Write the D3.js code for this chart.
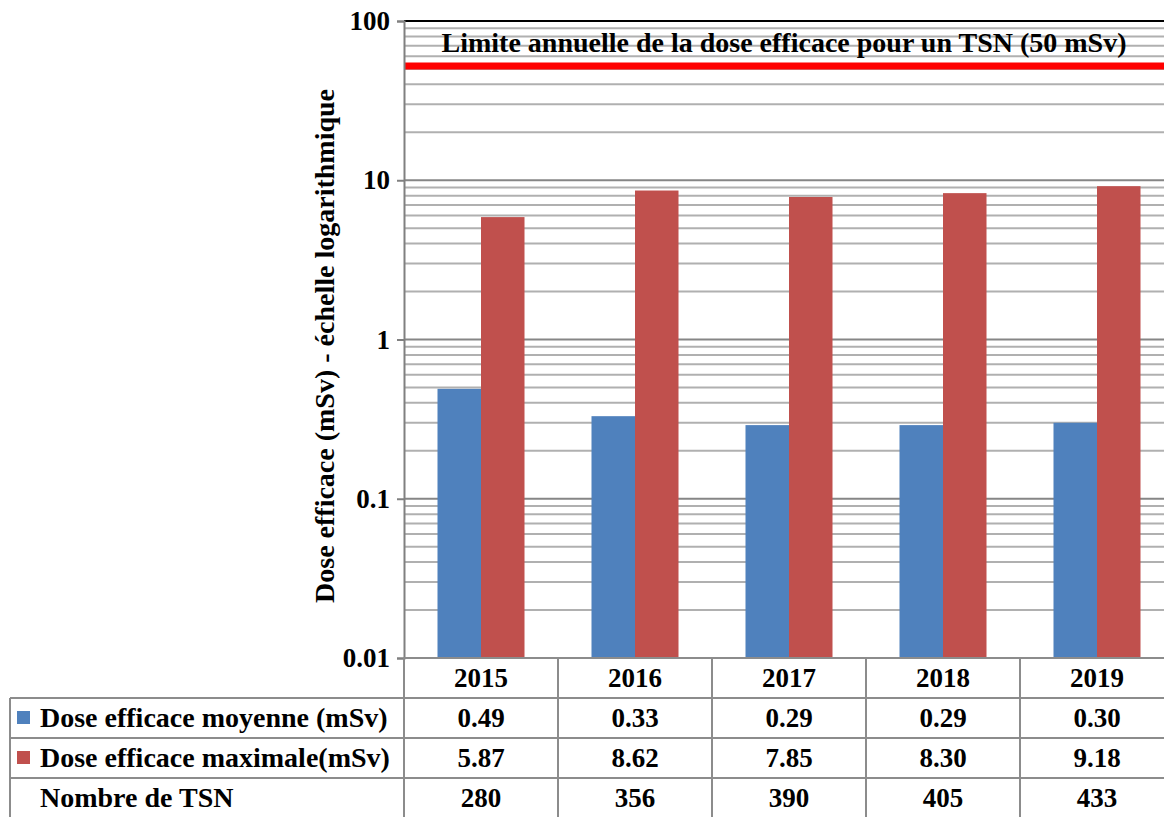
<!DOCTYPE html>
<html>
<head>
<meta charset="utf-8">
<script src="https://cdn.jsdelivr.net/npm/d3@7"></script>
<style>
	body { margin: 0; background: #fff; }
	svg text { font-family: "Liberation Serif", "Times New Roman", serif; font-weight: bold; fill: #000; }
</style>
</head>
<body>
<div id="chart"></div>
<script>
var years = ['2015', '2016', '2017', '2018', '2019'];
var doseMoyenne = [0.49, 0.33, 0.29, 0.29, 0.30];
var doseMaximale = [5.87, 8.62, 7.85, 8.30, 9.18];
var nombreTSN = [280, 356, 390, 405, 433];
var seriesNames = ['Dose efficace moyenne (mSv)', 'Dose efficace maximale(mSv)'];
var tickValues = [0.01, 0.1, 1, 10, 100];
var tickLabels = ['0.01', '0.1', '1', '10', '100'];
var limitValue = 50;
var limitLabel = 'Limite annuelle de la dose efficace pour un TSN (50 mSv)';
var yLabel = 'Dose efficace (mSv) - échelle logarithmique';

var colors = ['#4f81bd', '#c0504d'];

var width = 1164,
	height = 817,
	plotLeft = 404,
	plotRight = 1174,
	plotTop = 21,
	plotBottom = 658,
	rowH = 40,
	tableLeft = 10,
	fontSize = '27px';

var svg = d3.select('#chart')
	.append('svg')
	.attr('width', width)
	.attr('height', height);

var x = d3.scaleBand()
	.domain(years)
	.range([plotLeft, plotRight]);

var xInner = d3.scaleBand()
	.domain([0, 1])
	.range([0, x.bandwidth()])
	.paddingInner(0)
	.paddingOuter(0.77);

var y = d3.scaleLog()
	.domain([0.01, 100])
	.range([plotBottom, plotTop]);

// minor gridlines (2..9 of each decade)
var minor = [];
for (var p = -2; p < 2; p++) {
	for (var m = 2; m <= 9; m++) {
		minor.push(m * Math.pow(10, p));
	}
}

svg.append('g')
	.selectAll('line')
	.data(minor)
	.enter()
	.append('line')
	.attr('x1', plotLeft)
	.attr('x2', plotRight)
	.attr('y1', function(d) { return y(d); })
	.attr('y2', function(d) { return y(d); })
	.attr('stroke', '#b0b0b0')
	.attr('stroke-width', 2);

svg.append('g')
	.selectAll('line')
	.data([0.1, 1, 10])
	.enter()
	.append('line')
	.attr('x1', plotLeft)
	.attr('x2', plotRight)
	.attr('y1', function(d) { return y(d); })
	.attr('y2', function(d) { return y(d); })
	.attr('stroke', '#868686')
	.attr('stroke-width', 2);

// top border line
svg.append('line')
	.attr('x1', plotLeft)
	.attr('x2', plotRight)
	.attr('y1', y(100))
	.attr('y2', y(100))
	.attr('stroke', '#000')
	.attr('stroke-width', 2);

// bars
var groups = svg.selectAll('.year')
	.data(years)
	.enter()
	.append('g')
	.attr('class', 'year')
	.attr('transform', function(d) { return 'translate(' + x(d) + ',0)'; });

[doseMoyenne, doseMaximale].forEach(function(series, s) {
	groups.append('rect')
		.attr('x', xInner(s))
		.attr('width', xInner.bandwidth())
		.attr('y', function(d, i) { return y(series[i]); })
		.attr('height', function(d, i) { return y(0.01) - y(series[i]); })
		.attr('fill', colors[s]);
});

// limit line
svg.append('line')
	.attr('x1', plotLeft)
	.attr('x2', plotRight)
	.attr('y1', y(limitValue) - 3)
	.attr('y2', y(limitValue) - 3)
	.attr('stroke', '#ff0000')
	.attr('stroke-width', 7);

svg.append('text')
	.attr('x', 784)
	.attr('y', 52)
	.attr('text-anchor', 'middle')
	.style('font-size', '28px')
	.text(limitLabel);

// y axis
var yAxis = d3.axisLeft(y)
	.tickValues(tickValues)
	.tickFormat(function(d, i) { return tickLabels[i]; })
	.tickSize(7)
	.tickPadding(7);

var axisG = svg.append('g')
	.attr('transform', 'translate(' + plotLeft + ',0)')
	.call(yAxis);

axisG.select('.domain')
	.attr('stroke', '#808080')
	.attr('stroke-width', 2);

axisG.selectAll('.tick line')
	.attr('stroke', '#808080')
	.attr('stroke-width', 2);

axisG.selectAll('.tick text')
	.style('font-size', fontSize)
	.style('font-family', '"Liberation Serif", serif')
	.style('font-weight', 'bold');

svg.append('text')
	.attr('transform', 'translate(334,346) rotate(-90)')
	.attr('text-anchor', 'middle')
	.style('font-size', '28px')
	.text(yLabel);

// data table
var rows = [
	{label: seriesNames[0], values: doseMoyenne.map(function(v) { return v.toFixed(2); }), color: colors[0]},
	{label: seriesNames[1], values: doseMaximale.map(function(v) { return v.toFixed(2); }), color: colors[1]},
	{label: 'Nombre de TSN', values: nombreTSN.map(String), color: null}
];

var table = svg.append('g');
var gridColor = '#8c8c8c';

// header row
years.forEach(function(yr) {
	table.append('text')
		.attr('x', x(yr) + x.bandwidth() / 2)
		.attr('y', plotBottom + rowH / 2 + 9)
		.attr('text-anchor', 'middle')
		.style('font-size', fontSize)
		.text(yr);
});

rows.forEach(function(r, i) {
	var top = plotBottom + rowH * (i + 1);
	if (r.color) {
		table.append('rect')
			.attr('x', 17)
			.attr('y', top + 13)
			.attr('width', 13)
			.attr('height', 13)
			.attr('fill', r.color);
	}
	table.append('text')
		.attr('x', 40)
		.attr('y', top + rowH / 2 + 9)
		.style('font-size', '28px')
		.text(r.label);
	r.values.forEach(function(v, j) {
		table.append('text')
			.attr('x', x(years[j]) + x.bandwidth() / 2)
			.attr('y', top + rowH / 2 + 9)
			.attr('text-anchor', 'middle')
			.style('font-size', fontSize)
			.text(v);
	});
});

// table lines
table.append('line')
	.attr('x1', plotLeft).attr('x2', plotRight)
	.attr('y1', plotBottom).attr('y2', plotBottom)
	.attr('stroke', gridColor).attr('stroke-width', 2);

for (var k = 1; k <= rows.length; k++) {
	table.append('line')
		.attr('x1', tableLeft).attr('x2', plotRight)
		.attr('y1', plotBottom + rowH * k).attr('y2', plotBottom + rowH * k)
		.attr('stroke', gridColor).attr('stroke-width', 2);
}

table.append('line')
	.attr('x1', tableLeft).attr('x2', tableLeft)
	.attr('y1', plotBottom + rowH).attr('y2', height)
	.attr('stroke', gridColor).attr('stroke-width', 2);

years.forEach(function(yr) {
	table.append('line')
		.attr('x1', x(yr)).attr('x2', x(yr))
		.attr('y1', plotBottom).attr('y2', height)
		.attr('stroke', gridColor).attr('stroke-width', 2);
});
</script>
</body>
</html>
